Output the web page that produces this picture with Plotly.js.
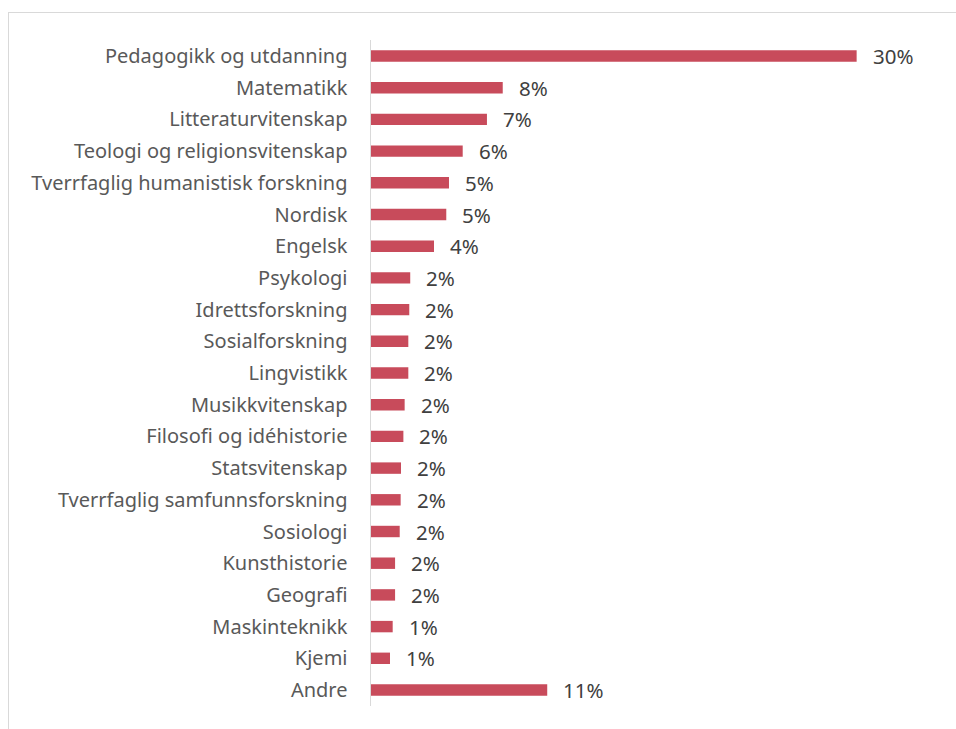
<!DOCTYPE html>
<html>
<head>
<meta charset="utf-8">
<script src="https://cdn.plot.ly/plotly-3.0.1.min.js"></script>
<style>
html,body{margin:0;padding:0;background:#fff;}
#frame{position:absolute;left:8px;top:12px;width:960px;height:730px;border-left:1.5px solid #d9d9d9;border-top:1.5px solid #d9d9d9;}
#chart{position:absolute;left:0;top:0;width:956px;height:729px;}
</style>
</head>
<body>
<div id="frame"></div>
<div id="chart"></div>
<script>
const categories = [
  "Pedagogikk og utdanning","Matematikk","Litteraturvitenskap","Teologi og religionsvitenskap",
  "Tverrfaglig humanistisk forskning","Nordisk","Engelsk","Psykologi","Idrettsforskning",
  "Sosialforskning","Lingvistikk","Musikkvitenskap","Filosofi og idéhistorie","Statsvitenskap",
  "Tverrfaglig samfunnsforskning","Sosiologi","Kunsthistorie","Geografi","Maskinteknikk","Kjemi","Andre"
];
const shares = [30.45,8.26,7.27,5.75,4.89,4.72,3.95,2.46,2.40,2.34,2.34,2.11,2.03,1.88,1.86,1.80,1.51,1.51,1.36,1.19,11.05];
const valueLabels = ["30%","8%","7%","6%","5%","5%","4%","2%","2%","2%","2%","2%","2%","2%","2%","2%","2%","2%","1%","1%","11%"];

const font = "'Noto Sans', 'Open Sans', sans-serif";

const trace = {
  type: "bar",
  orientation: "h",
  y: categories,
  x: shares,
  marker: {color: "#C84B5B"},
  hoverinfo: "none"
};

const annotations = categories.map((c, i) => ({
  x: shares[i], y: c, xref: "x", yref: "y",
  text: valueLabels[i], showarrow: false,
  xanchor: "left", yanchor: "middle", xshift: 14,
  font: {family: font, size: 20.5, color: "#404040"}
}));

const layout = {
  width: 956, height: 729,
  margin: {l: 371, r: 0, t: 40, b: 23},
  paper_bgcolor: "rgba(0,0,0,0)",
  plot_bgcolor: "rgba(0,0,0,0)",
  showlegend: false,
  bargap: 0.64,
  xaxis: {range: [0, 36.68], visible: false, fixedrange: true},
  yaxis: {
    autorange: "reversed", showline: true, linecolor: "#d9d9d9", linewidth: 1.5,
    showgrid: false, zeroline: false, ticks: "", ticklabelstandoff: 18,
    tickfont: {family: font, size: 20, color: "#595959"}
  },
  annotations: annotations
};

Plotly.newPlot("chart", [trace], layout, {displayModeBar: false, staticPlot: true});
</script>
</body>
</html>
